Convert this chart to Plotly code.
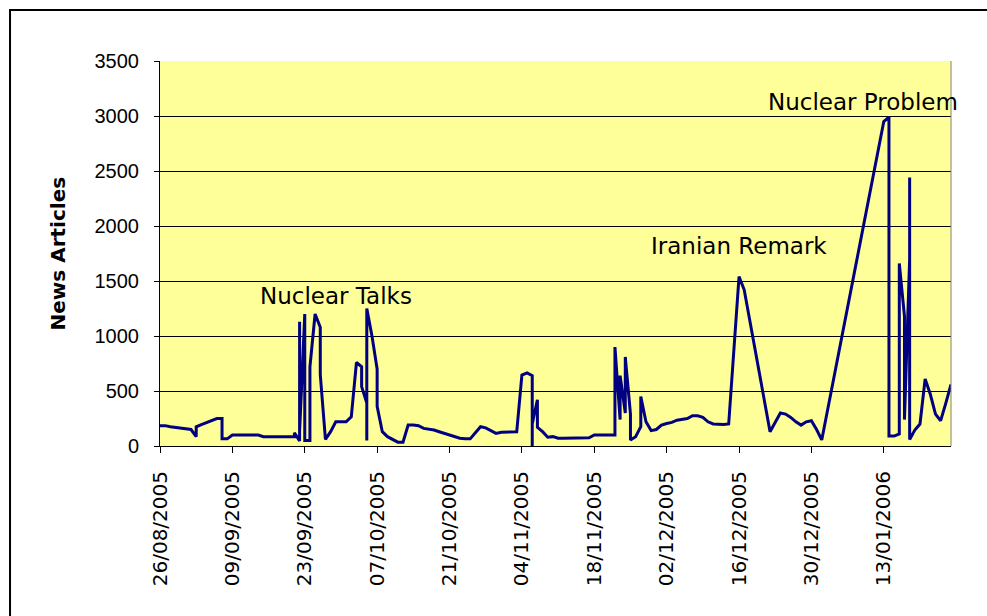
import plotly.graph_objects as go

# ---- data (dates may repeat: several readings on one day) ----
dates = [
    "2005-08-26", "2005-08-27", "2005-08-28", "2005-08-29", "2005-08-30", "2005-08-31",
    "2005-09-01", "2005-09-02", "2005-09-02", "2005-09-03", "2005-09-04", "2005-09-05",
    "2005-09-06", "2005-09-07", "2005-09-07", "2005-09-08", "2005-09-09", "2005-09-10",
    "2005-09-11", "2005-09-12", "2005-09-13", "2005-09-14", "2005-09-15", "2005-09-16",
    "2005-09-17", "2005-09-18", "2005-09-19", "2005-09-20", "2005-09-21", "2005-09-21",
    "2005-09-22", "2005-09-22", "2005-09-22", "2005-09-23", "2005-09-23", "2005-09-24",
    "2005-09-24", "2005-09-25", "2005-09-26", "2005-09-26", "2005-09-27", "2005-09-28",
    "2005-09-29", "2005-09-30",
    "2005-10-01", "2005-10-02", "2005-10-03", "2005-10-04", "2005-10-04", "2005-10-05",
    "2005-10-05", "2005-10-05", "2005-10-06", "2005-10-07", "2005-10-07", "2005-10-08",
    "2005-10-09", "2005-10-10", "2005-10-11", "2005-10-12", "2005-10-13", "2005-10-14",
    "2005-10-15", "2005-10-16", "2005-10-17", "2005-10-18", "2005-10-19", "2005-10-20",
    "2005-10-21", "2005-10-22", "2005-10-23", "2005-10-24", "2005-10-25", "2005-10-26",
    "2005-10-27", "2005-10-28", "2005-10-29", "2005-10-30", "2005-10-31",
    "2005-11-01", "2005-11-02", "2005-11-03", "2005-11-04", "2005-11-05", "2005-11-06",
    "2005-11-06", "2005-11-06", "2005-11-07", "2005-11-07", "2005-11-08", "2005-11-09",
    "2005-11-10", "2005-11-11", "2005-11-12", "2005-11-13", "2005-11-14", "2005-11-15",
    "2005-11-16", "2005-11-17", "2005-11-18", "2005-11-19", "2005-11-20", "2005-11-21",
    "2005-11-22", "2005-11-22", "2005-11-23", "2005-11-23", "2005-11-24", "2005-11-24",
    "2005-11-25", "2005-11-25", "2005-11-26", "2005-11-27", "2005-11-27", "2005-11-28",
    "2005-11-29", "2005-11-30",
    "2005-12-01", "2005-12-02", "2005-12-03", "2005-12-04", "2005-12-05", "2005-12-06",
    "2005-12-07", "2005-12-08", "2005-12-09", "2005-12-10", "2005-12-11", "2005-12-12",
    "2005-12-13", "2005-12-14", "2005-12-15", "2005-12-16", "2005-12-17", "2005-12-22",
    "2005-12-24", "2005-12-25", "2005-12-26", "2005-12-27", "2005-12-28", "2005-12-29",
    "2005-12-30", "2005-12-31",
    "2006-01-01", "2006-01-13", "2006-01-14", "2006-01-14", "2006-01-15", "2006-01-16",
    "2006-01-16", "2006-01-17", "2006-01-17", "2006-01-17", "2006-01-17", "2006-01-18",
    "2006-01-18", "2006-01-18", "2006-01-18", "2006-01-19", "2006-01-20", "2006-01-21",
    "2006-01-22", "2006-01-23", "2006-01-24", "2006-01-25", "2006-01-26",
]

articles = [
    185, 185, 175, 170, 160, 155,
    150, 85, 175, 195, 215, 235,
    250, 250, 65, 65, 100, 100,
    100, 100, 100, 100, 85, 85,
    85, 85, 85, 85, 85, 120,
    45, 1130, 130, 1200, 50, 50,
    720, 1200, 1080, 650, 60, 130,
    220, 220,
    220, 265, 760, 720, 540, 390,
    50, 1250, 1000, 700, 360, 130,
    85, 60, 35, 35, 190, 190,
    185, 160, 155, 145, 130, 115,
    105, 90, 70, 65, 65, 120,
    175, 165, 140, 115, 125,
    125, 125, 130, 645, 665, 640,
    0, 200, 420, 170, 130, 80,
    85, 70, 70, 70, 70, 70,
    70, 75, 100, 100, 100, 100,
    100, 900, 240, 640, 300, 810,
    290, 55, 85, 175, 450, 220,
    140, 150,
    190, 205, 215, 235, 245, 250,
    275, 275, 260, 220, 200, 195,
    195, 200, 900, 1540, 1420, 130,
    300, 290, 260, 220, 190, 220,
    230, 150,
    55, 2950, 2990, 90, 90, 110,
    1660, 1180, 700, 980, 240, 1700,
    300, 2440, 60, 145, 200, 610,
    470, 290, 230, 390, 560,
]

event_labels = ["Nuclear Talks", "Iranian Remark", "Nuclear Problem"]
event_dates = ["2005-09-29", "2005-12-16", "2006-01-09"]
event_heights = [1364, 1818, 3127]

y_title = "News Articles"
x_start, x_end = "2005-08-26", "2006-01-26"

fig = go.Figure()
fig.add_trace(go.Scatter(
    x=dates, y=articles, mode="lines",
    line=dict(color="#000080", width=3),
    hoverinfo="x+y", showlegend=False,
))

for lab, d, h in zip(event_labels, event_dates, event_heights):
    fig.add_annotation(x=d, y=h, text=lab, showarrow=False,
                       xanchor="center", yanchor="middle",
                       font=dict(family="DejaVu Sans", size=23, color="#000000"))

fig.add_annotation(xref="paper", yref="paper", x=-0.129, y=0.5,
                   text="<b>" + y_title + "</b>", textangle=-90, showarrow=False,
                   xanchor="center", yanchor="middle",
                   font=dict(family="DejaVu Sans", size=20, color="#000000"))

# outer chart-area frame (runs past the right/bottom edges of the picture)
fig.add_shape(type="rect", xref="paper", yref="paper",
              x0=-0.1896, y0=-0.6, x1=1.2, y1=1.1325,
              line=dict(color="#000000", width=2), layer="below")
# right edge of plot area (gray)
fig.add_shape(type="line", xref="paper", yref="paper",
              x0=1, y0=0, x1=1, y1=1,
              line=dict(color="#808080", width=1), layer="above")

fig.update_layout(
    width=987, height=616,
    margin=dict(l=160, r=36, t=61, b=170),
    paper_bgcolor="#FFFFFF",
    plot_bgcolor="#FFFF99",
    font=dict(family="Liberation Sans", color="#000000"),
)

fig.update_xaxes(
    type="date", range=[x_start, x_end],
    tick0=x_start, dtick=14 * 86400000, tickformat="%d/%m/%Y",
    tickangle=-90, ticks="outside", ticklen=6, tickcolor="#000000",
    showline=True, linecolor="#000000", linewidth=1,
    showgrid=False, zeroline=False,
    tickfont=dict(family="DejaVu Sans", size=20, color="#000000"),
    ticklabelstandoff=10,
)
fig.update_yaxes(
    range=[0, 3500], dtick=500, tick0=0,
    ticks="outside", ticklen=5, tickcolor="#000000",
    showline=True, linecolor="#000000", linewidth=1,
    showgrid=True, gridcolor="#000000", gridwidth=1,
    zeroline=False,
    tickfont=dict(family="Liberation Sans", size=20, color="#000000"),
    ticklabelstandoff=11,
)

fig.write_html(
    "out.html",
    config={"displayModeBar": False},
    post_script="document.body.style.margin='0';document.body.style.overflow='hidden';",
)
